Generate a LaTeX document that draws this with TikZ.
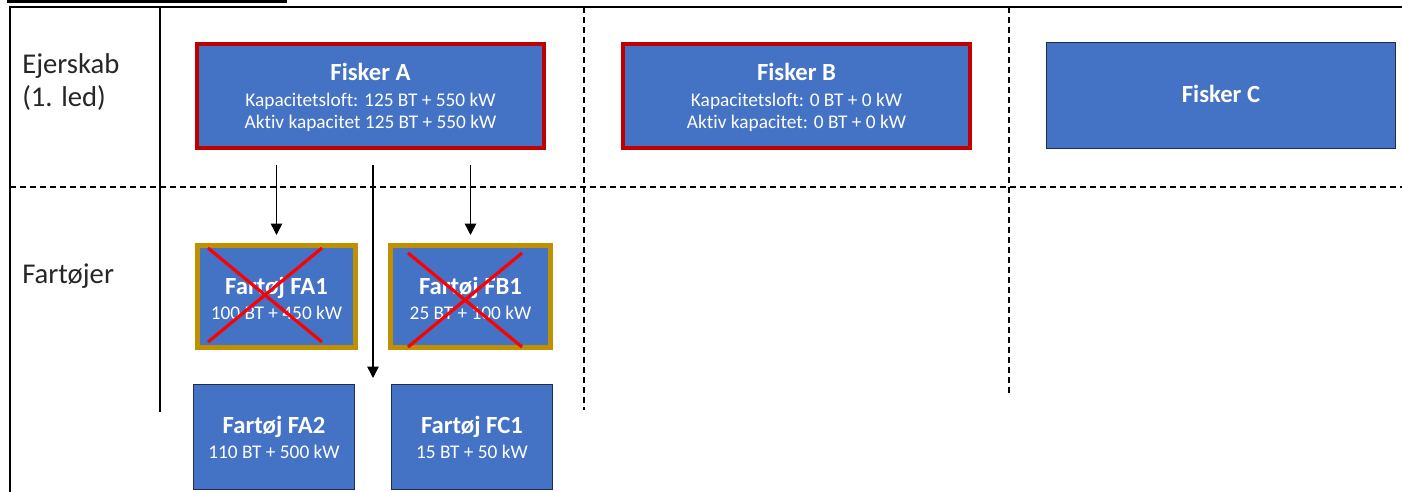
\documentclass[tikz,border=0pt]{standalone}
\usepackage{fontspec}
\setmainfont{Carlito}[Ligatures=NoCommon]
\usetikzlibrary{arrows.meta}
\definecolor{boxblue}{HTML}{4472C4}
\definecolor{boxedge}{HTML}{1F2D4D}
\definecolor{ownred}{HTML}{C00000}
\definecolor{vgold}{HTML}{BF9000}
\definecolor{xred}{HTML}{FF0000}
\definecolor{lbltext}{HTML}{262626}
\begin{document}
\begin{tikzpicture}[x=0.75pt,y=-0.75pt,
  box/.style={fill=boxblue, draw=boxedge, line width=0.9pt, inner sep=0pt},
  ownerbox/.style={box, draw=ownred, line width=3pt, minimum width=260.25pt, minimum height=78pt},
  vesselx/.style={box, draw=vgold, line width=3.75pt, minimum height=76.5pt},
  vessel/.style={box, minimum width=120.75pt, minimum height=78.75pt},
  ttl/.style={text=white, font=\fontsize{18.5}{22}\selectfont\bfseries, anchor=base, inner sep=0pt},
  sub/.style={text=white, font=\fontsize{14.5}{17}\selectfont, anchor=base, inner sep=0pt},
  lbl/.style={text=lbltext, font=\fontsize{21.5}{26}\selectfont, anchor=base west, inner sep=0pt},
  frame/.style={line width=1.1pt, draw=black},
  divider/.style={line width=0.9pt, draw=black, dash pattern=on 4.5pt off 3pt},
  arr/.style={line width=1.1pt, draw=black, -{Triangle[length=8.5pt,width=8.5pt]}},
  cross/.style={line width=2.4pt, draw=xred}
]
\useasboundingbox (0,0) rectangle (1402,492);

% top cut-off underline
\draw[line width=2.4pt] (7,1.5) -- (287,1.5);

% frame lines
\draw[frame] (10,492) -- (10,7) -- (1402,7);
\draw[frame] (160,7) -- (160,412);
\draw[divider] (10,187) -- (1402,187);
\draw[divider] (584,7) -- (584,410);
\draw[divider] (1009,7) -- (1009,395);

% row labels
\node[lbl] (own1) at (22,74) {Ejerskab};
\node[lbl] (own2) at (22,107) {(1. led)};
\node[lbl] (ves) at (22,283) {Fartøjer};

% owners
\node[ownerbox] (fA) at (370.5,96) {};
\node[ttl] (fAt) at (370.5,80) {Fisker A};
\node[sub] (fAs1) at (370.5,106) {Kapacitetsloft: 125 BT + 550 kW};
\node[sub] (fAs2) at (370.5,128) {Aktiv kapacitet 125 BT + 550 kW};

\node[ownerbox] (fB) at (796.5,96) {};
\node[ttl] (fBt) at (796.5,80) {Fisker B};
\node[sub] (fBs1) at (796.5,106) {Kapacitetsloft: 0 BT + 0 kW};
\node[sub] (fBs2) at (796.5,128) {Aktiv kapacitet: 0 BT + 0 kW};

\node[box, minimum width=261.75pt, minimum height=79.5pt] (fC) at (1221,95.5) {};
\node[ttl] (fCt) at (1221,103) {Fisker C};

% vessels
\node[vesselx, minimum width=118.5pt] (fa1) at (276.5,296.5) {};
\node[ttl] (fa1t) at (276.5,294) {Fartøj FA1};
\node[sub] (fa1s) at (276.5,319) {100 BT + 450 kW};

\node[vesselx, minimum width=120pt] (fb1) at (470.5,296.5) {};
\node[ttl] (fb1t) at (470.5,294) {Fartøj FB1};
\node[sub] (fb1s) at (470.5,319) {25 BT + 100 kW};

\node[vessel] (fa2) at (274,437) {};
\node[ttl] (fa2t) at (274,433) {Fartøj FA2};
\node[sub] (fa2s) at (274,458) {110 BT + 500 kW};

\node[vessel] (fc1) at (472,437) {};
\node[ttl] (fc1t) at (472,433) {Fartøj FC1};
\node[sub] (fc1s) at (472,458) {15 BT + 50 kW};

% crosses
\draw[cross] (208,248) -- (322,342) (208,342) -- (322,248);
\draw[cross] (408,253) -- (522,347) (408,347) -- (522,253);

% arrows
\coordinate (s1) at (fA.south -| fa1.north);
\coordinate (s2) at (fA.south -| fb1.north);
\coordinate (gap) at (373,378);
\coordinate (s3) at (gap |- fA.south);
\draw[arr] ([yshift=-11pt]s1) -- ([yshift=6pt]fa1.north);
\draw[arr] ([yshift=-11pt]s2) -- ([yshift=6pt]fb1.north);
\draw[arr] ([yshift=-11pt]s3) -- (gap);
\end{tikzpicture}
\end{document}
